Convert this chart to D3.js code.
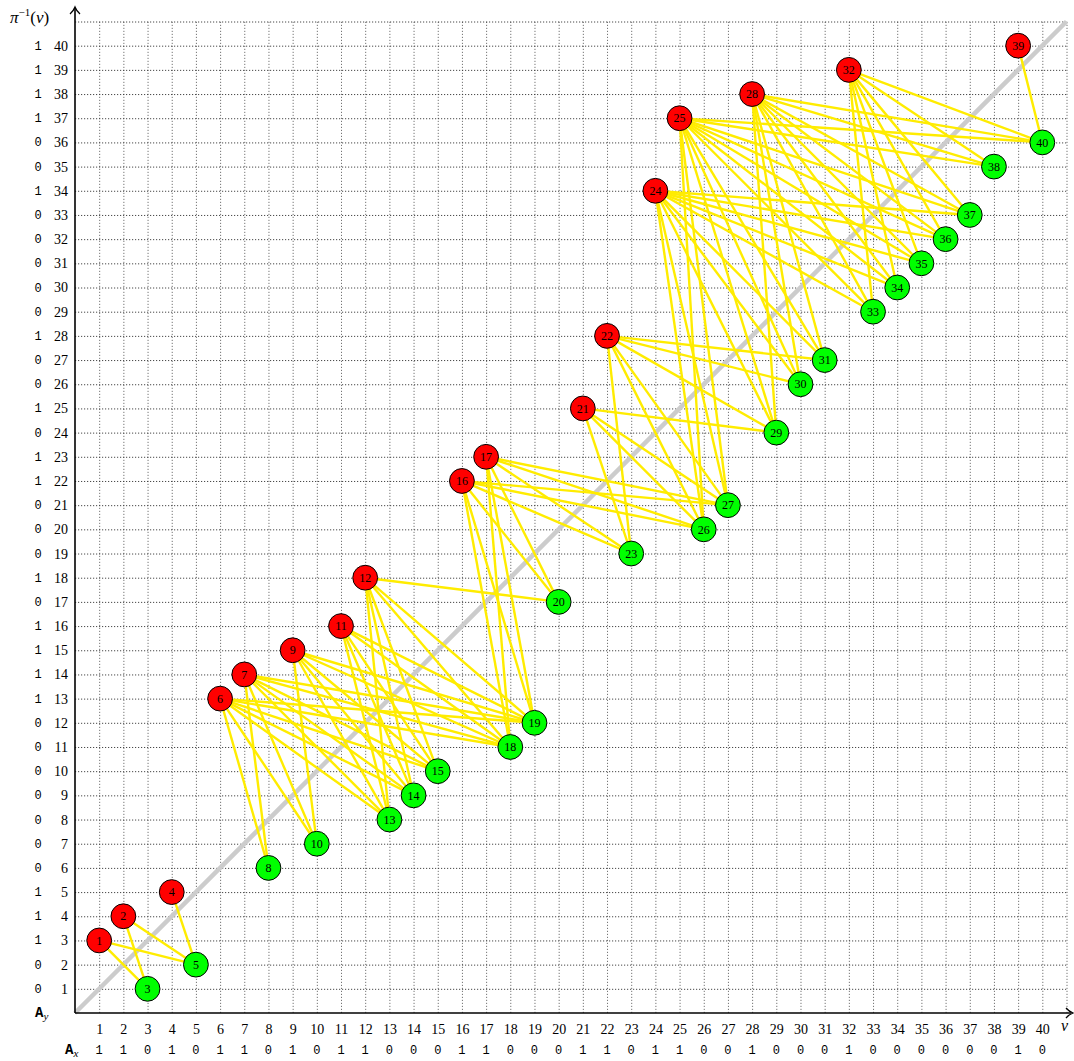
<!DOCTYPE html>
<html><head><meta charset="utf-8">
<script src="https://cdn.jsdelivr.net/npm/d3@7"></script>
<style>
body{margin:0;background:#fff;}
svg{display:block;}
</style></head>
<body>
<svg id="c" width="1074" height="1061"></svg>
<script>
// data
const positions = d3.range(1, 41); // v
const piInv = [3,4,1,5,2,13,14,6,15,7,16,18,8,9,10,22,23,11,12,17,25,28,19,34,37,20,21,38,24,26,27,39,29,30,31,32,33,35,40,36];
const xTickLabels = d3.range(1, 41);
const yTickLabels = d3.range(1, 41);
const Ax = [1,1,0,1,0,1,1,0,1,0,1,1,0,0,0,1,1,0,0,0,1,1,0,1,1,0,0,1,0,0,0,1,0,0,0,0,0,0,1,0];
const Ay = [0,0,1,1,1,0,0,0,0,0,0,0,1,1,1,1,0,1,0,0,0,1,1,0,1,0,0,1,0,0,0,0,0,1,0,0,1,1,1,1];

const svg = d3.select("#c");
const x = d3.scaleLinear().domain([0, 41]).range([75, 1066.5]);
const y = d3.scaleLinear().domain([0, 41]).range([1013, 21.5]);
const serif = "'Liberation Serif', 'DejaVu Serif', serif";
const mono = "'Liberation Mono', 'DejaVu Sans Mono', monospace";

// grid
const gx = svg.append("g").attr("transform", `translate(0,${y(0)})`)
  .call(d3.axisBottom(x).tickValues(d3.range(1, 42)).tickSize(-(y(0) - y(41))).tickFormat(""));
gx.select(".domain").remove();
gx.selectAll("line").attr("stroke", "#666").attr("stroke-width", 0.9).attr("stroke-dasharray", "1.2,1.8");
const gy = svg.append("g").attr("transform", `translate(${x(0)},0)`)
  .call(d3.axisLeft(y).tickValues(d3.range(1, 42)).tickSize(-(x(41) - x(0))).tickFormat(""));
gy.select(".domain").remove();
gy.selectAll("line").attr("stroke", "#333").attr("stroke-width", 0.9).attr("stroke-dasharray", "1.2,1.8");

// diagonal
svg.append("line").attr("x1", x(0)).attr("y1", y(0)).attr("x2", x(41)).attr("y2", y(41))
  .attr("stroke", "#cccccc").attr("stroke-width", 4.5);

// axes
svg.append("line").attr("x1", x(0)).attr("y1", y(0)).attr("x2", 1071).attr("y2", y(0)).attr("stroke", "#000").attr("stroke-width", 1.6);
svg.append("line").attr("x1", x(0)).attr("y1", y(0)).attr("x2", x(0)).attr("y2", 8).attr("stroke", "#000").attr("stroke-width", 1.6);
svg.append("path").attr("d", `M${x(0)-5},${14} Q${x(0)-1.5},${11} ${x(0)},${7} Q${x(0)+1.5},${11} ${x(0)+5},${14}`)
  .attr("fill", "none").attr("stroke", "#000").attr("stroke-width", 1.3);
svg.append("path").attr("d", `M1066,${y(0)-5} Q1069,${y(0)-1.5} 1073,${y(0)} Q1069,${y(0)+1.5} 1066,${y(0)+5}`)
  .attr("fill", "none").attr("stroke", "#000").attr("stroke-width", 1.3);

// tick labels x
const tx = svg.append("g").attr("transform", `translate(0,${y(0)})`)
  .call(d3.axisBottom(x).tickValues(xTickLabels).tickSize(0).tickPadding(11).tickFormat(d => d));
tx.select(".domain").remove();
tx.selectAll("text").attr("font-family", serif).attr("font-size", 14).attr("fill", "#000");

const ty = svg.append("g").attr("transform", `translate(${x(0)},0)`)
  .call(d3.axisLeft(y).tickValues(yTickLabels).tickSize(0).tickPadding(7).tickFormat(d => d));
ty.select(".domain").remove();
ty.selectAll("text").attr("font-family", serif).attr("font-size", 14).attr("fill", "#000");

// A_x / A_y rows
svg.append("g").selectAll("text").data(Ax).join("text")
  .attr("x", (d, i) => x(positions[i])).attr("y", 1054)
  .attr("text-anchor", "middle").attr("font-family", mono).attr("font-size", 12).text(d => d);
svg.append("g").selectAll("text").data(Ay).join("text")
  .attr("x", 38).attr("y", (d, i) => y(yTickLabels[i]) + 4)
  .attr("text-anchor", "middle").attr("font-family", mono).attr("font-size", 12).text(d => d);

// axis names
const ay = svg.append("text").attr("x", 35).attr("y", 1017).attr("font-size", 14);
ay.append("tspan").attr("font-family", mono).attr("font-weight", "bold").text("A");
ay.append("tspan").attr("font-family", serif).attr("font-style", "italic").attr("font-size", 11).attr("dy", 3).text("y");
const axl = svg.append("text").attr("x", 65).attr("y", 1054).attr("font-size", 14);
axl.append("tspan").attr("font-family", mono).attr("font-weight", "bold").text("A");
axl.append("tspan").attr("font-family", serif).attr("font-style", "italic").attr("font-size", 11).attr("dy", 3).text("x");

const pl = svg.append("text").attr("x", 10).attr("y", 23).attr("font-family", serif).attr("font-size", 17);
pl.append("tspan").attr("font-style", "italic").text("π");
pl.append("tspan").attr("font-size", 11).attr("dy", -7).text("−1");
pl.append("tspan").attr("dy", 7).text("(");
pl.append("tspan").attr("font-style", "italic").text("v");
pl.append("tspan").text(")");
svg.append("text").attr("x", 1061).attr("y", 1031).attr("font-family", serif).attr("font-style", "italic").attr("font-size", 16).text("v");

// nodes & edges
const nodes = positions.map((v, i) => ({ v, p: piInv[i], red: piInv[i] > v }));
const edges = [];
nodes.forEach(a => nodes.forEach(b => { if (a.v < b.v && a.p > b.p) edges.push([a, b]); }));

svg.append("g").selectAll("line").data(edges).join("line")
  .attr("x1", d => x(d[0].v)).attr("y1", d => y(d[0].p))
  .attr("x2", d => x(d[1].v)).attr("y2", d => y(d[1].p))
  .attr("stroke", "#ffec00").attr("stroke-width", 2.4);

const ng = svg.append("g").selectAll("g").data(nodes).join("g")
  .attr("transform", d => `translate(${x(d.v)},${y(d.p)})`);
ng.append("circle").attr("r", 12.4).attr("fill", d => d.red ? "#ff0000" : "#00ff00")
  .attr("stroke", "#000").attr("stroke-width", 1);
ng.append("text").attr("text-anchor", "middle").attr("dy", 4.2).attr("font-family", serif)
  .attr("font-size", 12).text(d => d.v);
</script>
</body></html>
